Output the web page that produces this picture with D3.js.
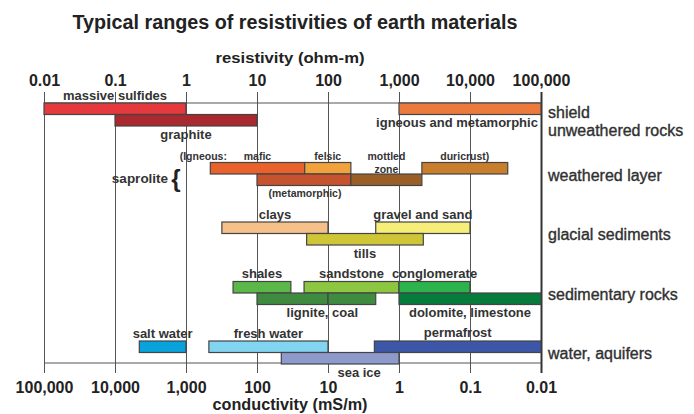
<!DOCTYPE html>
<html>
<head>
<meta charset="utf-8">
<script src="https://cdn.jsdelivr.net/npm/d3@7"></script>
<style>
  body { margin: 0; background: #fff; }
  svg { display: block; }
  text { font-family: "Liberation Sans", Arial, Helvetica, sans-serif; fill: #333; }
</style>
</head>
<body>
<svg id="chart" width="694" height="414"></svg>
<script>
// Axis ticks (resistivity on top, conductivity = 1000 / resistivity on the bottom)
const resistivityTicks = [0.01, 0.1, 1, 10, 100, 1000, 10000, 100000];
const resistivityTickLabels = ["0.01", "0.1", "1", "10", "100", "1,000", "10,000", "100,000"];
const conductivityTicks = [100000, 10000, 1000, 100, 10, 1, 0.1, 0.01];
const conductivityTickLabels = ["100,000", "10,000", "1,000", "100", "10", "1", "0.1", "0.01"];

// Material groups (right-hand labels)
const groups = ["unweathered rocks", "weathered layer", "glacial sediments", "sedimentary rocks", "water, aquifers"];

// Material ranges in ohm-m
const materials = ["massive sulfides", "graphite", "igneous and metamorphic", "mafic", "felsic",
  "metamorphic", "mottled zone", "duricrust", "clays", "gravel and sand", "tills",
  "shales", "sandstone", "conglomerate", "lignite", "coal", "dolomite, limestone",
  "salt water", "fresh water", "permafrost", "sea ice"];
const materialGroup = [0, 0, 0, 1, 1, 1, 1, 1, 2, 2, 2, 3, 3, 3, 3, 3, 3, 4, 4, 4, 4];
const materialRow   = [0, 1, 0, 0, 0, 1, 1, 0, 0, 0, 1, 0, 0, 0, 1, 1, 1, 0, 0, 0, 1];
const resistivityLow  = [0.01, 0.1, 1000, 2.2, 47, 10, 210, 2100, 3.2, 470, 50, 4.6, 46, 1000, 10, 100, 1000, 0.22, 2.1, 450, 22];
const resistivityHigh = [1, 10, 100000, 47, 210, 210, 2100, 34000, 100, 10000, 2200, 30, 1000, 10000, 100, 470, 100000, 1, 100, 100000, 1000];
const materialColors = ["#e43a3d", "#a9292e", "#ec7a3d", "#e9622c", "#f2a23d", "#c6532d", "#9a5f26",
  "#c97e2c", "#f6c08b", "#f6ee79", "#cfc637", "#5bb848", "#8dc640", "#2cb34c", "#3f8b3f", "#3f8b3f",
  "#077b3b", "#08a2dc", "#82d5f0", "#3c57a8", "#8e99cc"];

const svg = d3.select("#chart");

const x = d3.scaleLog().domain([0.01, 100000]).range([44, 541]);
const xc = d3.scaleLog().domain([100000, 0.01]).range([44, 541]);
const gy = d3.scaleBand().domain(groups).range([103, 400.5]).paddingInner(0).paddingOuter(0);
const rowH = 11.5;
const frameTop = 103, frameBottom = 363, gridTop = 92, gridBottom = 373;

const barY = i => gy(groups[materialGroup[i]]) + materialRow[i] * rowH;

// Title
svg.append("text")
  .attr("x", 295).attr("y", 29)
  .attr("text-anchor", "middle")
  .attr("font-size", 20).attr("font-weight", "bold")
  .attr("textLength", 445).attr("lengthAdjust", "spacingAndGlyphs")
  .style("fill", "#222")
  .text("Typical ranges of resistivities of earth materials");

svg.append("text")
  .attr("x", 290).attr("y", 63)
  .attr("text-anchor", "middle")
  .attr("font-size", 15).attr("font-weight", "bold")
  .attr("textLength", 149).attr("lengthAdjust", "spacingAndGlyphs")
  .style("fill", "#222")
  .text("resistivity (ohm-m)");

// Top axis with full-height grid lines
const topAxis = d3.axisTop(x)
  .tickValues(resistivityTicks)
  .tickFormat((d, i) => resistivityTickLabels[i])
  .tickSizeInner(-(gridBottom - gridTop))
  .tickSizeOuter(0)
  .tickPadding(6);

const gTop = svg.append("g").attr("transform", `translate(0,${gridTop})`).call(topAxis);
gTop.select(".domain").remove();
gTop.selectAll(".tick line")
  .attr("stroke", "#555").attr("stroke-width", 1)
  .filter(d => d === 100000).attr("stroke", "#333").attr("stroke-width", 2);
gTop.selectAll(".tick text")
  .attr("font-size", 16).attr("font-weight", "bold")
  .attr("font-family", null)
  .style("fill", "#222");

// Frame lines
svg.append("line")
  .attr("x1", x(0.01)).attr("x2", x(100000))
  .attr("y1", frameTop).attr("y2", frameTop)
  .attr("stroke", "#555").attr("stroke-width", 1);
svg.append("line")
  .attr("x1", x(0.01)).attr("x2", x(100000))
  .attr("y1", frameBottom).attr("y2", frameBottom)
  .attr("stroke", "#555").attr("stroke-width", 1);

// Bottom axis (conductivity)
const bottomAxis = d3.axisBottom(xc)
  .tickValues(conductivityTicks)
  .tickFormat((d, i) => conductivityTickLabels[i])
  .tickSizeInner(0)
  .tickSizeOuter(0)
  .tickPadding(9);
const gBot = svg.append("g").attr("transform", `translate(0,${gridBottom})`).call(bottomAxis);
gBot.select(".domain").remove();
gBot.selectAll(".tick text")
  .attr("font-size", 16).attr("font-weight", "bold")
  .attr("font-family", null)
  .style("fill", "#222");

svg.append("text")
  .attr("x", 290).attr("y", 410)
  .attr("text-anchor", "middle")
  .attr("font-size", 16).attr("font-weight", "bold")
  .attr("textLength", 155).attr("lengthAdjust", "spacingAndGlyphs")
  .style("fill", "#222")
  .text("conductivity (mS/m)");

// Bars
svg.append("g").selectAll("rect")
  .data(materials)
  .join("rect")
  .attr("x", (d, i) => x(resistivityLow[i]))
  .attr("width", (d, i) => x(resistivityHigh[i]) - x(resistivityLow[i]))
  .attr("y", (d, i) => barY(i))
  .attr("height", rowH)
  .attr("fill", (d, i) => materialColors[i])
  .attr("stroke", "#444")
  .attr("stroke-width", 1.2);

// Bar labels: which bars they describe, side, and nudges
const idx = name => materials.indexOf(name);
const mid = (a, b) => (x(resistivityLow[a]) + x(resistivityHigh[b])) / 2;
const labels = [
  { text: "massive sulfides", a: "massive sulfides", side: "above" },
  { text: "graphite", a: "graphite", side: "below" },
  { text: "igneous and metamorphic", a: "igneous and metamorphic", side: "below", dx: -13 },
  { text: "clays", a: "clays", side: "above" },
  { text: "gravel and sand", a: "gravel and sand", side: "above" },
  { text: "tills", a: "tills", side: "below" },
  { text: "shales", a: "shales", side: "above" },
  { text: "sandstone", a: "sandstone", side: "above" },
  { text: "conglomerate", a: "conglomerate", side: "above" },
  { text: "lignite, coal", a: "lignite", b: "coal", side: "below", dx: 6 },
  { text: "dolomite, limestone", a: "dolomite, limestone", side: "below" },
  { text: "salt water", a: "salt water", side: "above" },
  { text: "fresh water", a: "fresh water", side: "above" },
  { text: "permafrost", a: "permafrost", side: "above", dy: -1 },
  { text: "sea ice", a: "sea ice", side: "below", dx: 19 }
];
svg.append("g").selectAll("text")
  .data(labels)
  .join("text")
  .attr("x", d => mid(idx(d.a), idx(d.b || d.a)) + (d.dx || 0))
  .attr("y", d => {
    const i = idx(d.a);
    return (d.side === "above" ? barY(i) - 8 : barY(i) + rowH + 8) + (d.dy || 0);
  })
  .attr("dy", "0.35em")
  .attr("text-anchor", "middle")
  .attr("font-size", 13).attr("font-weight", "bold")
  .text(d => d.text);

// Saprolite (weathered layer) sub-labels, smaller type
const small = [
  { text: "(Igneous:", x: x(resistivityLow[idx("mafic")]) - 7, y: barY(idx("mafic")) - 6 },
  { text: "mafic", x: mid(idx("mafic"), idx("mafic")), y: barY(idx("mafic")) - 6 },
  { text: "felsic", x: mid(idx("felsic"), idx("felsic")), y: barY(idx("felsic")) - 6 },
  { text: "mottled", x: mid(idx("mottled zone"), idx("mottled zone")), y: barY(idx("mafic")) - 6 },
  { text: "zone", x: mid(idx("mottled zone"), idx("mottled zone")), y: barY(idx("mottled zone")) - 5 },
  { text: "duricrust)", x: mid(idx("duricrust"), idx("duricrust")), y: barY(idx("duricrust")) - 6 },
  { text: "(metamorphic)", x: mid(idx("metamorphic"), idx("metamorphic")) + 1, y: barY(idx("metamorphic")) + rowH + 8 }
];
svg.append("g").selectAll("text")
  .data(small)
  .join("text")
  .attr("x", d => d.x).attr("y", d => d.y)
  .attr("dy", "0.35em")
  .attr("text-anchor", "middle")
  .attr("font-size", 10.5).attr("font-weight", "bold")
  .text(d => d.text);

const wy = gy("weathered layer");
svg.append("text")
  .attr("x", 140).attr("y", wy + 16).attr("dy", "0.35em")
  .attr("text-anchor", "middle")
  .attr("font-size", 13.5).attr("font-weight", "bold")
  .text("saprolite");
svg.append("text")
  .attr("x", 176).attr("y", wy + 16).attr("dy", "0.35em")
  .attr("text-anchor", "middle")
  .attr("font-size", 24).attr("font-weight", "bold")
  .style("fill", "#222")
  .text("{");

// Group labels on the right, a little heavier than regular weight
const rx = 548;
const groupLabels = svg.append("g")
  .attr("font-size", 16)
  .style("fill", "#2a2a2a")
  .style("stroke", "#2a2a2a")
  .style("stroke-width", 0.35);
groupLabels.append("text")
  .attr("x", rx).attr("y", gy(groups[0]) + 9).attr("dy", "0.35em")
  .text("shield");
groups.forEach((g, i) => {
  groupLabels.append("text")
    .attr("x", rx)
    .attr("y", gy(g) + (i === 0 ? 27 : rowH + 1))
    .attr("dy", "0.35em")
    .text(g);
});
</script>
</body>
</html>
